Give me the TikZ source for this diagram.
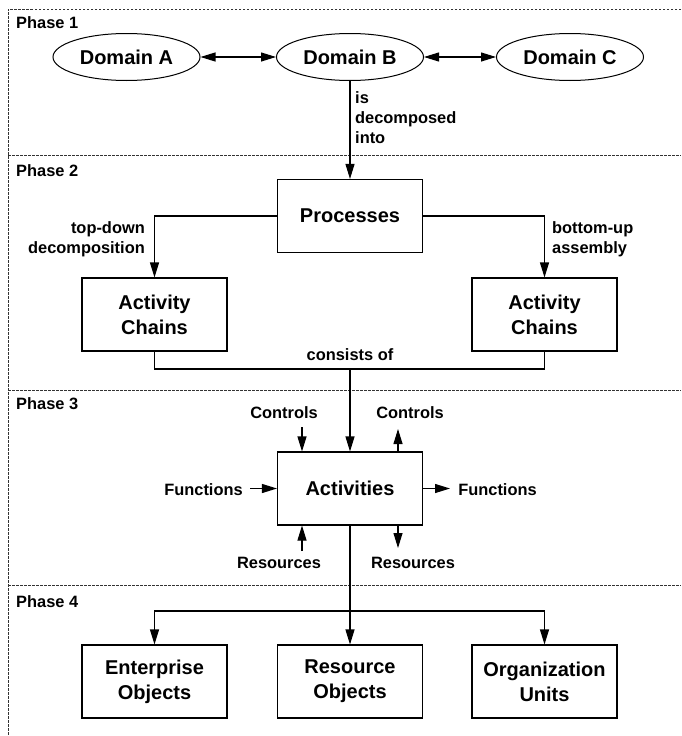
\documentclass[tikz,border=0pt]{standalone}
\usepackage{fontspec}
\setmainfont{Liberation Sans}
\usetikzlibrary{arrows.meta,shapes.geometric}
\newcommand\mainfnt{\fontsize{20}{25}\selectfont\bfseries}
\newcommand\lblfnt{\fontsize{16.4}{20}\selectfont\bfseries}
\begin{document}
\begin{tikzpicture}[x=1pt,y=-1pt,
  box/.style={draw, line width=1.1pt, minimum width=145pt, minimum height=73pt,
              align=center, font=\mainfnt, inner sep=0pt},
  dom/.style={draw, ellipse, line width=1pt, minimum width=147pt, minimum height=47pt,
              font=\mainfnt, inner sep=0pt},
  lbl/.style={font=\lblfnt, inner sep=0pt},
  phase/.style={font=\lblfnt, inner sep=0pt, anchor=base west},
  tip/.tip={Triangle[length=15pt,width=9pt]},
  conn/.style={line width=1.1pt, -tip},
  biconn/.style={line width=1.1pt, tip-tip},
  plain/.style={line width=1.1pt},
  sep/.style={line width=0.8pt, dash pattern=on 2.5pt off 1.5pt, draw=black!80}]
\useasboundingbox (0,0) rectangle (681,736);

% frame and phase separators
\coordinate (tl) at (8,9);
\coordinate (tr) at (681,9);
\coordinate (bl) at (8,736);
\draw[sep] (tr) -- (tl) -- (bl);
\foreach \yy/\nm in {155/s1,390/s2,585/s3}{
  \coordinate (\nm a) at (8,\yy);
  \coordinate (\nm b) at (681,\yy);
  \draw[sep] (\nm a) -- (\nm b);
}

% phase labels
\node[phase] (p1) at (16,28) {Phase 1};
\node[phase] (p2) at (16,176) {Phase 2};
\node[phase] (p3) at (16,409) {Phase 3};
\node[phase] (p4) at (16,607) {Phase 4};

% phase 1: domains
\node[dom] (da) at (126.5,57) {Domain A};
\node[dom] (db) at (350,57) {Domain B};
\node[dom] (dc) at (570,57) {Domain C};
\draw[biconn] (da) -- (db);
\draw[biconn] (db) -- (dc);

% phase 2: processes and activity chains
\node[box] (proc) at (350,216) {Processes};
\node[box] (acl) at (154.5,314.5) {Activity\\Chains};
\node[box] (acr) at (544.5,314.5) {Activity\\Chains};
\draw[conn] (db) -- (proc);
\node[lbl, anchor=west, align=left] (dec) at (355,117.5) {is\\decomposed\\into};
\draw[conn] (proc.west) -| (acl.north);
\draw[conn] (proc.east) -| (acr.north);
\node[lbl, anchor=east, align=right] (td) at (145,239.5) {top-down\\decomposition};
\node[lbl, anchor=west, align=left] (bu) at (552,239.5) {bottom-up\\assembly};
\coordinate (join) at (350,369);
\draw[plain] (acl.south) |- (join) -| (acr.south);
\node[lbl] (cons) at (350,355) {consists of};

% phase 3: activities
\node[box] (act) at (350,488.5) {Activities};
\draw[conn] (join) -- (act.north);
\node[lbl] (ctl) at (284,413) {Controls};
\node[lbl] (ctr) at (410,413) {Controls};
\coordinate (ctla) at (302,427);
\coordinate (ctra) at (398,429);
\draw[conn] (ctla) -- (ctla |- act.north);
\draw[conn] (ctra |- act.north) -- (ctra);
\node[lbl] (fnl) at (203.5,490) {Functions};
\node[lbl] (fnr) at (497.5,490) {Functions};
\coordinate (fnla) at (250,488.5);
\coordinate (fnra) at (450,488.5);
\draw[conn] (fnla) -- (act.west);
\draw[conn] (act.east) -- (fnra);
\node[lbl] (rsl) at (279,563) {Resources};
\node[lbl] (rsr) at (413,563) {Resources};
\coordinate (rsla) at (302,551);
\coordinate (rsra) at (398,548);
\draw[conn] (rsla) -- (rsla |- act.south);
\draw[conn] (rsra |- act.south) -- (rsra);

% phase 4: objects and units
\node[box] (eo) at (154.5,681.5) {Enterprise\\Objects};
\node[box] (ro) at (350,681.5) {Resource\\Objects};
\node[box] (ou) at (544.5,681.5) {Organization\\Units};
\coordinate (fork) at (350,611);
\draw[plain] (act.south) -- (fork);
\draw[conn] (fork) -- (ro.north);
\draw[conn] (fork) -| (eo.north);
\draw[conn] (fork) -| (ou.north);
\end{tikzpicture}
\end{document}
